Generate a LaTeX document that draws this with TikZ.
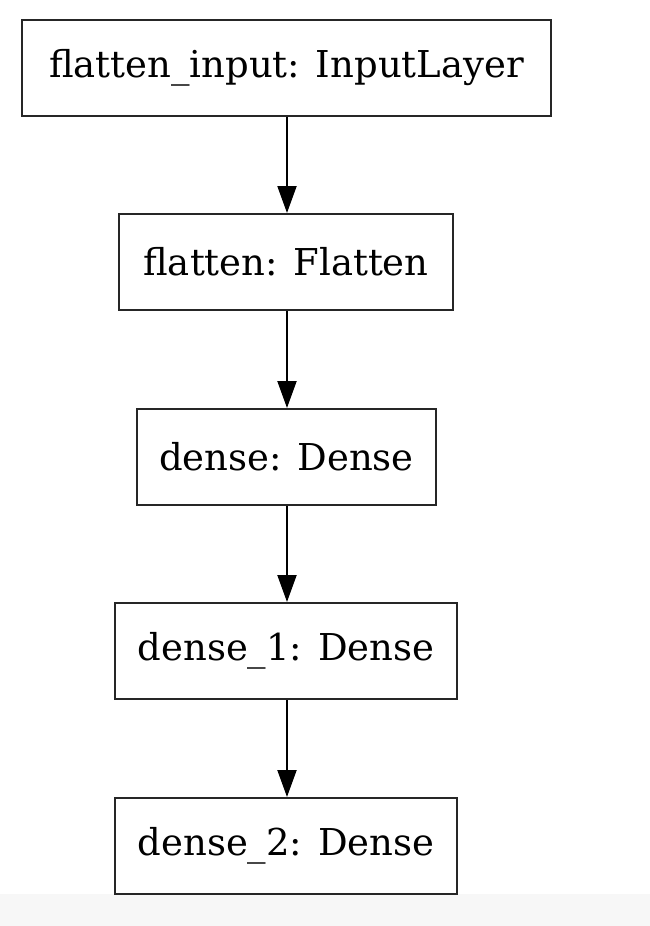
\documentclass[tikz,border=0pt]{standalone}
\usepackage{fontspec}
\setmainfont{DejaVu Serif}
\usetikzlibrary{arrows.meta}
\begin{document}
\begin{tikzpicture}[x=1pt,y=-1pt,
  layerbox/.style={draw=black!85, line width=2pt, rectangle, inner sep=0pt,
    minimum height=96pt, font=\fontsize{37}{44}\selectfont},
  flow/.style={draw=black, line width=2pt,
    -{Triangle[width=19pt,length=27pt]}}]
  % page and light strip along the bottom edge
  \fill[white] (0,0) rectangle (650,926);
  \fill[black!3] (0,894) rectangle (650,926);
  \useasboundingbox (0,0) rectangle (650,926);
  % layers
  \node[layerbox, minimum width=529pt] (input)   at (286.5,67.5) {flatten\_input: InputLayer};
  \node[layerbox, minimum width=334pt] (flatten) at (286,262)    {flatten: Flatten};
  \node[layerbox, minimum width=299pt] (dense)   at (286.5,457)  {dense: Dense};
  \node[layerbox, minimum width=342pt] (dense1)  at (286,651)    {dense\_1: Dense};
  \node[layerbox, minimum width=342pt] (dense2)  at (286,846)    {dense\_2: Dense};
  % connections
  \draw[flow] (input.south -| 287,0)   -- (flatten.north -| 287,0);
  \draw[flow] (flatten.south -| 287,0) -- (dense.north -| 287,0);
  \draw[flow] (dense.south -| 287,0)   -- (dense1.north -| 287,0);
  \draw[flow] (dense1.south -| 287,0)  -- (dense2.north -| 287,0);
\end{tikzpicture}
\end{document}
